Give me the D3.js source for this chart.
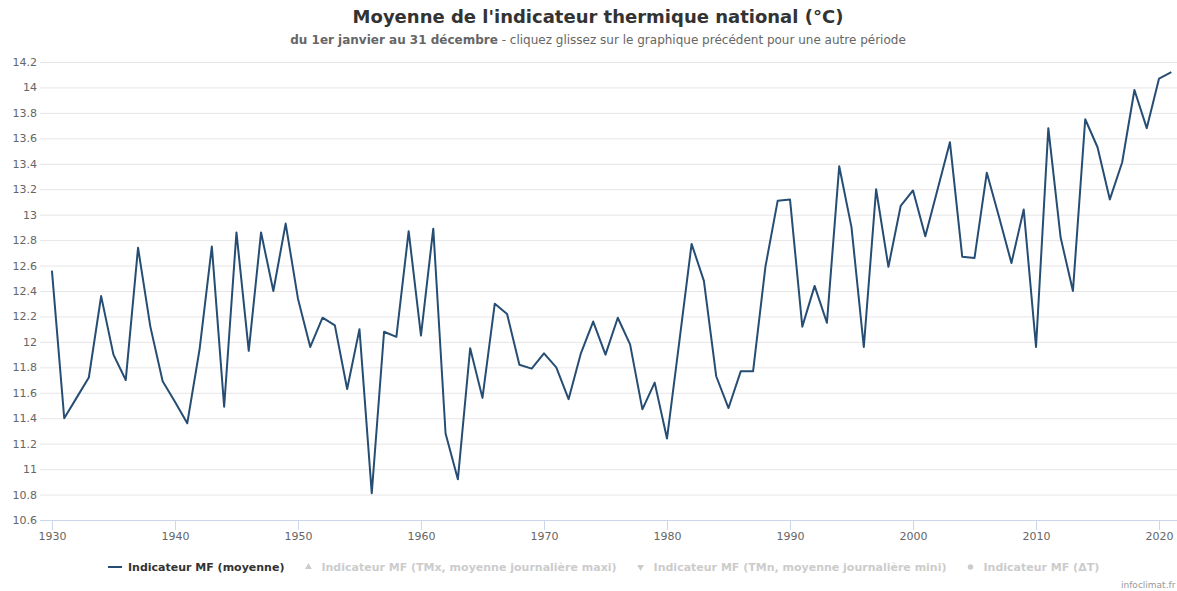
<!DOCTYPE html>
<html>
<head>
<meta charset="utf-8">
<script src="https://cdn.jsdelivr.net/npm/d3@7"></script>
<style>
  body { margin: 0; background: #fff; }
  svg { display: block; font-family: "DejaVu Sans", sans-serif; }
</style>
</head>
<body>
<div id="chart"></div>
<script>
// years and yearly mean of the national thermal indicator (°C)
const years = d3.range(1930, 2022);
const moyenne = [
  12.56, 11.40, 11.56, 11.72, 12.36, 11.90, 11.70, 12.74, 12.12, 11.69,
  11.53, 11.36, 11.94, 12.75, 11.49, 12.86, 11.93, 12.86, 12.40, 12.93,
  12.34, 11.96, 12.19, 12.13, 11.63, 12.10, 10.81, 12.08, 12.04, 12.87,
  12.05, 12.89, 11.28, 10.92, 11.95, 11.56, 12.30, 12.22, 11.82, 11.79,
  11.91, 11.80, 11.55, 11.91, 12.16, 11.90, 12.19, 11.98, 11.47, 11.68,
  11.24, 12.00, 12.77, 12.48, 11.73, 11.48, 11.77, 11.77, 12.59, 13.11,
  13.12, 12.12, 12.44, 12.15, 13.38, 12.90, 11.96, 13.20, 12.59, 13.07,
  13.19, 12.83, 13.20, 13.57, 12.67, 12.66, 13.33, 12.98, 12.62, 13.04,
  11.96, 13.68, 12.82, 12.40, 13.75, 13.53, 13.12, 13.41, 13.98, 13.68,
  14.07, 14.12
];
const yTicks = d3.range(10.6, 14.21, 0.2).map(d => +d.toFixed(1));
const xTicks = d3.range(1930, 2021, 10);
const legendItems = [
  {name: 'Indicateur MF (moyenne)', symbol: 'line', visible: true},
  {name: 'Indicateur MF (TMx, moyenne journalière maxi)', symbol: 'triangle', visible: false},
  {name: 'Indicateur MF (TMn, moyenne journalière mini)', symbol: 'triangle-down', visible: false},
  {name: 'Indicateur MF (ΔT)', symbol: 'circle', visible: false}
];

const width = 1177, height = 591;
const margin = {top: 62, right: 0, bottom: 71, left: 40};
const lineColor = '#264d73';

let svg = d3.select('#chart')
  .append('svg')
    .attr('width', width)
    .attr('height', height);

// scales
let x = d3.scaleLinear()
  .domain([1929.03, 2021.46])
  .range([margin.left, width - margin.right]);
let y = d3.scaleLinear()
  .domain([10.6, 14.2])
  .range([height - margin.bottom, margin.top]);

// title + subtitle
svg.append('text')
  .attr('x', 598).attr('y', 23)
  .attr('text-anchor', 'middle')
  .style('font-size', '18px').style('font-weight', 'bold')
  .style('fill', '#333')
  .text("Moyenne de l'indicateur thermique national (°C)");
let sub = svg.append('text')
  .attr('x', 598).attr('y', 44)
  .attr('text-anchor', 'middle')
  .style('font-size', '12px').style('fill', '#666');
sub.append('tspan').style('font-weight', 'bold').text('du 1er janvier au 31 décembre');
sub.append('tspan').text(' - cliquez glissez sur le graphique précédent pour une autre période');

// y axis with grid
let yAxis = svg.append('g')
  .attr('transform', 'translate(' + margin.left + ',0)')
  .call(d3.axisLeft(y)
    .tickValues(yTicks)
    .tickSize(-(width - margin.left - margin.right))
    .tickPadding(3)
    .tickFormat(d => String(d)));
yAxis.select('.domain').remove();
yAxis.selectAll('.tick line').attr('stroke', '#e6e6e6');
yAxis.selectAll('.tick text')
  .attr('x', -3)
  .style('font-size', '11px')
  .style('fill', '#666')
  .style('font-family', '"DejaVu Sans", sans-serif');

// x axis
let xAxis = svg.append('g')
  .attr('transform', 'translate(0,' + (height - margin.bottom) + ')')
  .call(d3.axisBottom(x)
    .tickValues(xTicks)
    .tickSize(10)
    .tickPadding(2)
    .tickFormat(d3.format('d')));
xAxis.select('.domain').attr('stroke', '#ccd6eb').attr('d', 'M' + margin.left + ',0.5H' + width);
xAxis.selectAll('.tick line').attr('stroke', '#ccd6eb');
xAxis.selectAll('.tick text')
  .style('font-size', '11px')
  .style('fill', '#666')
  .style('font-family', '"DejaVu Sans", sans-serif');

// the line
let line = d3.line()
  .x((d, i) => x(years[i]))
  .y(d => y(d));
svg.append('path')
  .datum(moyenne)
  .attr('d', line)
  .attr('fill', 'none')
  .attr('stroke', lineColor)
  .attr('stroke-width', 2)
  .attr('stroke-linejoin', 'round');

// legend (hidden series greyed out)
let legend = svg.append('g').attr('transform', 'translate(0,567)');
let lx = 108;
legendItems.forEach(item => {
  let g = legend.append('g');
  let col = item.visible ? '#333' : '#ccc';
  let tx;
  if (item.symbol === 'line') {
    g.append('line')
      .attr('x1', lx).attr('x2', lx + 14)
      .attr('y1', 0).attr('y2', 0)
      .attr('stroke', lineColor).attr('stroke-width', 2);
    tx = lx + 20;
  } else {
    let type = item.symbol === 'circle' ? d3.symbolCircle : d3.symbolTriangle;
    g.append('path')
      .attr('d', d3.symbol().type(type).size(item.symbol === 'circle' ? 24 : 20)())
      .attr('transform', 'translate(' + lx + ',0)' + (item.symbol === 'triangle-down' ? ' rotate(180)' : ''))
      .attr('fill', col);
    tx = lx + 13;
  }
  let t = g.append('text')
    .attr('x', tx).attr('y', 4)
    .style('font-size', '11px').style('font-weight', 'bold')
    .style('fill', col)
    .text(item.name);
  lx = tx + t.node().getComputedTextLength() + 24;
});

// credits
svg.append('text')
  .attr('x', 1121).attr('y', 588)
  .style('font-size', '9px').style('fill', '#999')
  .text('infoclimat.fr');
</script>
</body>
</html>
